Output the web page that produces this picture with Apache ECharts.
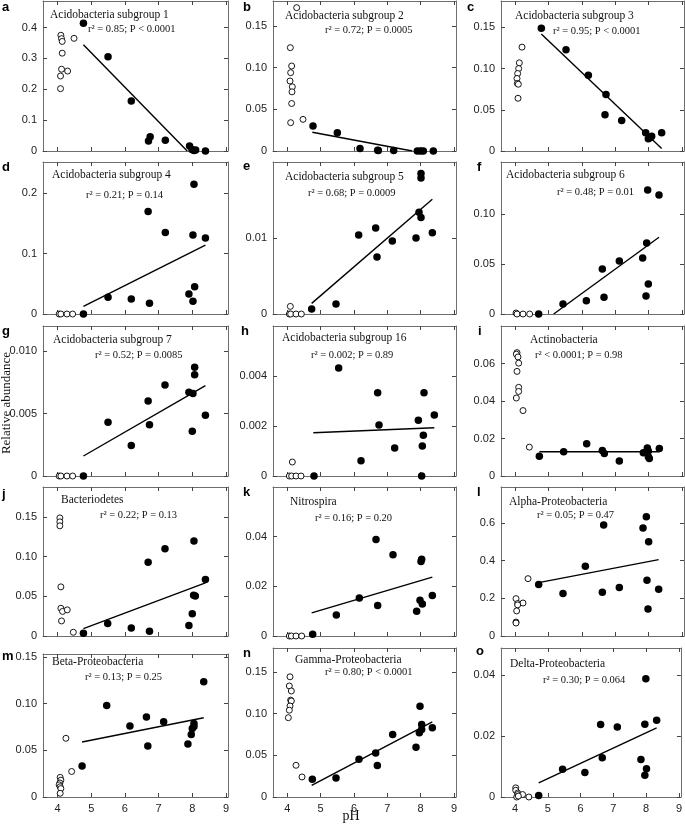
<!DOCTYPE html>
<html><head><meta charset="utf-8">
<script src="https://cdn.jsdelivr.net/npm/echarts@6/dist/echarts.min.js"></script>
<style>html,body{margin:0;padding:0;background:#fff}#c{width:685px;height:827px}</style>
</head><body><div id="c"></div><script>
const panelIds = ['a','b','c','d','e','f','g','h','i','j','k','l','m','n','o'];
const titles = ['Acidobacteria subgroup 1','Acidobacteria subgroup 2','Acidobacteria subgroup 3','Acidobacteria subgroup 4','Acidobacteria subgroup 5','Acidobacteria subgroup 6','Acidobacteria subgroup 7','Acidobacteria subgroup 16','Actinobacteria','Bacteriodetes','Nitrospira','Alpha-Proteobacteria','Beta-Proteobacteria','Gamma-Proteobacteria','Delta-Proteobacteria'];
const stats = ['r² = 0.85; P < 0.0001','r² = 0.72; P = 0.0005','r² = 0.95; P < 0.0001','r² = 0.21; P = 0.14','r² = 0.68; P = 0.0009','r² = 0.48; P = 0.01','r² = 0.52; P = 0.0085','r² = 0.002; P = 0.89','r² < 0.0001; P = 0.98','r² = 0.22; P = 0.13','r² = 0.16; P = 0.20','r² = 0.05; P = 0.47','r² = 0.13; P = 0.25','r² = 0.80; P < 0.0001','r² = 0.30; P = 0.064'];
const xTickLabels = ['4','5','6','7','8','9'];
const yTickLabels = [
  ['0','0.1','0.2','0.3','0.4'], ['0','0.05','0.10','0.15'], ['0','0.05','0.10','0.15'],
  ['0','0.1','0.2'], ['0','0.01'], ['0','0.05','0.10'],
  ['0','0.005','0.010'], ['0','0.002','0.004'], ['0','0.02','0.04','0.06'],
  ['0','0.05','0.10','0.15'], ['0','0.02','0.04'], ['0','0.2','0.4','0.6'],
  ['0','0.05','0.10','0.15'], ['0','0.05','0.10','0.15'], ['0','0.02','0.04']
];
const yMaxes = [0.486,0.180,0.182,0.252,0.020,0.152,0.012,0.006,0.080,0.188,0.060,0.79,0.153,0.1785,0.0489];

const aOpen = [[4.10,0.375],[4.12,0.364],[4.14,0.355],[4.14,0.317],[4.49,0.365],[4.12,0.265],[4.30,0.259],[4.09,0.243],[4.09,0.202]];
const aFilled = [[4.77,0.414],[5.50,0.305],[6.19,0.162],[6.75,0.046],[6.70,0.032],[7.20,0.035],[7.92,0.016],[7.99,0.005],[8.05,0.002],[8.10,0.003],[8.39,0.0]];
const aLine = [[4.77,0.344],[7.85,0]];
const bOpen = [[4.28,0.172],[4.09,0.124],[4.13,0.102],[4.10,0.094],[4.08,0.084],[4.15,0.077],[4.14,0.071],[4.13,0.057],[4.10,0.034],[4.47,0.038]];
const bFilled = [[4.77,0.030],[5.50,0.022],[6.18,0.003],[6.71,0.001],[6.73,0.0005],[7.19,0.0005],[7.90,0],[8.00,0],[8.08,0],[8.38,0]];
const bLine = [[4.75,0.0225],[7.75,0]];
const cOpen = [[4.20,0.126],[4.12,0.107],[4.10,0.100],[4.07,0.094],[4.05,0.088],[4.06,0.082],[4.09,0.081],[4.08,0.064]];
const cFilled = [[4.78,0.149],[5.52,0.123],[6.19,0.092],[6.72,0.0685],[6.69,0.044],[7.19,0.037],[7.91,0.022],[7.99,0.015],[8.04,0.016],[8.09,0.018],[8.39,0.022]];
const cLine = [[4.78,0.142],[8.39,0.003]];
const dOpen = [[4.05,0],[4.10,0],[4.28,0],[4.45,0]];
const dFilled = [[4.77,0],[5.50,0.0276],[6.19,0.025],[6.73,0.018],[6.69,0.170],[7.20,0.135],[7.90,0.033],[8.02,0.021],[8.07,0.045],[8.02,0.131],[8.05,0.215],[8.39,0.126]];
const dLine = [[4.77,0.0127],[8.39,0.114]];
const eOpen = [[4.09,0.001],[4.06,0],[4.10,0],[4.26,0],[4.42,0]];
const eFilled = [[4.73,0.00066],[5.46,0.0013],[6.14,0.0104],[6.65,0.0113],[6.69,0.0075],[7.15,0.0096],[7.86,0.0100],[7.95,0.0134],[8.01,0.0127],[8.01,0.0185],[8.01,0.0179],[8.35,0.0107]];
const eLine = [[4.73,0.0014],[8.35,0.0151]];
const fOpen = [[4.02,0.001],[4.05,0],[4.23,0],[4.43,0]];
const fFilled = [[4.70,0],[5.43,0.010],[6.13,0.0133],[6.61,0.045],[6.66,0.0167],[7.12,0.053],[7.82,0.056],[7.94,0.071],[7.92,0.018],[7.99,0.030],[7.97,0.124],[8.31,0.119]];
const fLine = [[5.15,0],[8.31,0.0767]];
const gOpen = [[4.05,0],[4.10,0],[4.28,0],[4.45,0]];
const gFilled = [[4.77,0],[5.50,0.00431],[6.19,0.00245],[6.69,0.0060],[6.73,0.0041],[7.19,0.00729],[7.90,0.0067],[8.02,0.0066],[8.00,0.00359],[8.07,0.0081],[8.07,0.0087],[8.39,0.00487]];
const gLine = [[4.77,0.0016],[8.39,0.00723]];
const hOpen = [[4.15,0.00056],[4.06,0],[4.13,0],[4.26,0],[4.41,0]];
const hFilled = [[4.80,0],[5.54,0.00432],[6.21,0.00061],[6.71,0.00333],[6.75,0.00204],[7.22,0.00112],[7.93,0.00223],[8.05,0.0012],[8.08,0.00163],[8.10,0.00333],[8.03,0],[8.41,0.00244]];
const hLine = [[4.78,0.00173],[8.41,0.00193]];
const iOpen = [[4.05,0.0658],[4.03,0.0650],[4.08,0.0635],[4.10,0.0602],[4.05,0.0558],[4.10,0.0473],[4.10,0.0451],[4.03,0.0416],[4.23,0.0349],[4.42,0.0154]];
const iFilled = [[4.72,0.0106],[5.45,0.0129],[6.14,0.0172],[6.61,0.0136],[6.67,0.0120],[7.12,0.0080],[7.84,0.0124],[7.96,0.0150],[7.99,0.0133],[7.99,0.0103],[8.02,0.0094],[8.32,0.0147]];
const iLine = [[4.72,0.0129],[8.32,0.0129]];
const jOpen = [[4.07,0.149],[4.07,0.144],[4.07,0.139],[4.10,0.062],[4.10,0.035],[4.15,0.031],[4.29,0.033],[4.12,0.019],[4.47,0.0047]];
const jFilled = [[4.77,0.0034],[5.49,0.0157],[6.19,0.0102],[6.69,0.093],[6.73,0.0059],[7.19,0.110],[7.90,0.0131],[8.00,0.0280],[8.05,0.120],[8.04,0.0513],[8.09,0.0504],[8.39,0.0712]];
const jLine = [[4.77,0.0093],[8.39,0.067]];
const kOpen = [[4.06,0],[4.12,0],[4.26,0],[4.43,0]];
const kFilled = [[4.76,0.0007],[5.47,0.0085],[6.16,0.0153],[6.66,0.0389],[6.71,0.0123],[7.17,0.0327],[7.88,0.010],[7.98,0.0144],[8.05,0.0129],[8.01,0.030],[8.03,0.0309],[8.35,0.0163]];
const kLine = [[4.73,0.0093],[8.35,0.0237]];
const lOpen = [[4.38,0.304],[4.02,0.198],[4.07,0.172],[4.23,0.175],[4.07,0.165],[4.04,0.133],[4.02,0.074],[4.02,0.069]];
const lFilled = [[4.70,0.273],[5.43,0.225],[6.10,0.370],[6.65,0.589],[6.61,0.232],[7.12,0.257],[7.83,0.573],[7.93,0.632],[8.00,0.50],[7.95,0.296],[7.98,0.143],[8.30,0.248]];
const lLine = [[4.70,0.283],[8.30,0.405]];
const mOpen = [[4.25,0.0628],[4.42,0.0273],[4.08,0.021],[4.10,0.018],[4.07,0.015],[4.05,0.013],[4.08,0.011],[4.10,0.009],[4.08,0.004]];
const mFilled = [[4.73,0.0333],[5.46,0.098],[6.15,0.0759],[6.64,0.0855],[6.68,0.0546],[7.15,0.0805],[7.87,0.0567],[7.97,0.067],[8.00,0.0734],[8.05,0.0755],[8.05,0.0787],[8.34,0.1234]];
const mLine = [[4.73,0.0589],[8.34,0.0848]];
const nOpen = [[4.08,0.144],[4.06,0.133],[4.12,0.127],[4.10,0.116],[4.12,0.115],[4.08,0.109],[4.06,0.104],[4.03,0.095],[4.26,0.038],[4.44,0.024]];
const nFilled = [[4.75,0.0212],[5.46,0.0228],[6.15,0.0452],[6.65,0.0528],[6.70,0.0376],[7.16,0.0748],[7.86,0.0596],[7.98,0.1088],[7.96,0.077],[8.03,0.081],[8.03,0.087],[8.35,0.083]];
const nLine = [[4.73,0.014],[8.35,0.09]];
const oOpen = [[4.02,0.0030],[4.02,0.0022],[4.08,0.0013],[4.08,0.0008],[4.23,0.0008],[4.42,0.0],[4.05,0],[4.10,0.0003]];
const oFilled = [[4.72,0.0005],[5.45,0.0091],[6.13,0.0080],[6.61,0.0238],[6.66,0.0129],[7.12,0.0230],[7.84,0.0123],[7.96,0.0239],[7.96,0.0071],[8.01,0.0093],[7.99,0.0388],[8.32,0.0252]];
const oLine = [[4.72,0.0046],[8.32,0.0227]];

const openSets = [aOpen,bOpen,cOpen,dOpen,eOpen,fOpen,gOpen,hOpen,iOpen,jOpen,kOpen,lOpen,mOpen,nOpen,oOpen];
const filledSets = [aFilled,bFilled,cFilled,dFilled,eFilled,fFilled,gFilled,hFilled,iFilled,jFilled,kFilled,lFilled,mFilled,nFilled,oFilled];
const lineSets = [aLine,bLine,cLine,dLine,eLine,fLine,gLine,hLine,iLine,jLine,kLine,lLine,mLine,nLine,oLine];

// layout
const colLeft = [43, 273, 501], colW = [185, 183, 183];
const rowTop = [1, 162, 326, 487, 648], rowBot = [151, 314, 476, 636, 797];
const topOverride = {12: 654};
const titleOff = [[7,14],[12,15],[14,15],[9,13],[12,15],[5,13],[10,14],[9,12],[29,14],[18,13],[17,15],[8,15],[9,8],[22,12],[9,16]];
const statOff = [[45,28],[52,29],[52,30],[43,33],[35,31],[56,30],[52,29],[38,29],[34,29],[57,28],[42,31],[36,28],[42,23],[52,24],[42,32]];
const letterPos = [[2,7],[243,7],[467,7],[2,167],[243,166],[477,167],[2,331],[241,331],[478,331],[2,494],[243,492],[477,492],[2,656],[243,653],[476,651]];

const FRAME = '#6e6e6e';
const grids = [], xAxes = [], yAxes = [], series = [], graphics = [];
const xTickVals = xTickLabels.map(Number);

for (let i = 0; i < 15; i++) {
  const r = Math.floor(i / 3), c = i % 3;
  const top = topOverride[i] !== undefined ? topOverride[i] : rowTop[r];
  const left = colLeft[c], w = colW[c], h = rowBot[r] - top;
  grids.push({left: left, top: top, width: w, height: h});
  const yl = yTickLabels[i], yv = yl.map(Number);
  const fmt = v => { const k = yv.findIndex(x => Math.abs(x - v) < 1e-12); return k >= 0 ? yl[k] : ''; };
  const axLine = {show: true, onZero: false, lineStyle: {color: FRAME, width: 1}};
  const tick = vals => ({show: true, inside: true, length: 4, customValues: vals, lineStyle: {color: '#444', width: 1}});
  xAxes.push({type: 'value', gridIndex: i, min: 3.57, max: 9.06, position: 'bottom',
    axisLine: axLine, axisTick: tick(xTickVals), splitLine: {show: false},
    axisLabel: {show: r === 4, customValues: xTickVals, fontFamily: 'Liberation Sans', fontSize: 11, color: '#222', margin: 6}});
  xAxes.push({type: 'value', gridIndex: i, min: 3.57, max: 9.06, position: 'top',
    axisLine: axLine, axisTick: tick(xTickVals), splitLine: {show: false}, axisLabel: {show: false}});
  yAxes.push({type: 'value', gridIndex: i, min: 0, max: yMaxes[i], position: 'left',
    axisLine: axLine, axisTick: tick(yv), splitLine: {show: false},
    axisLabel: {show: true, customValues: yv, formatter: fmt, fontFamily: 'Liberation Sans', fontSize: 11, color: '#222', margin: 6}});
  yAxes.push({type: 'value', gridIndex: i, min: 0, max: yMaxes[i], position: 'right',
    axisLine: axLine, axisTick: tick(yv), splitLine: {show: false}, axisLabel: {show: false}});
  const xi = 2 * i, yi = 2 * i;
  series.push({type: 'line', xAxisIndex: xi, yAxisIndex: yi, data: lineSets[i], symbol: 'none',
    lineStyle: {color: '#000', width: 1.4}, z: 2, animation: false, silent: true});
  series.push({type: 'scatter', xAxisIndex: xi, yAxisIndex: yi, data: openSets[i], symbolSize: 6,
    itemStyle: {color: '#fff', borderColor: '#000', borderWidth: 0.9, opacity: 1}, z: 3, animation: false, silent: true});
  series.push({type: 'scatter', xAxisIndex: xi, yAxisIndex: yi, data: filledSets[i], symbolSize: 7.5,
    itemStyle: {color: '#000', opacity: 1}, z: 4, animation: false, silent: true});
  graphics.push({type: 'text', z: 10, style: {x: left + titleOff[i][0], y: top + titleOff[i][1], text: titles[i],
    fontFamily: 'Liberation Serif', fontSize: 11.5, fill: '#111', verticalAlign: 'middle'}});
  graphics.push({type: 'text', z: 10, style: {x: left + statOff[i][0], y: top + statOff[i][1], text: stats[i],
    fontFamily: 'Liberation Serif', fontSize: 10.5, fill: '#111', verticalAlign: 'middle'}});
  graphics.push({type: 'text', z: 10, style: {x: letterPos[i][0], y: letterPos[i][1], text: panelIds[i],
    fontFamily: 'Liberation Sans', fontWeight: 'bold', fontSize: 13, fill: '#000', verticalAlign: 'middle'}});
}
graphics.push({type: 'text', z: 10, x: 7, y: 403, rotation: Math.PI / 2,
  style: {x: 0, y: 0, text: 'Relative abundance', fontFamily: 'Liberation Serif', fontSize: 13, fill: '#111', align: 'center', verticalAlign: 'middle'}});
graphics.push({type: 'text', z: 10, style: {x: 351, y: 816, text: 'pH', fontFamily: 'Liberation Serif', fontSize: 14, fill: '#111', align: 'center', verticalAlign: 'middle'}});

const chart = echarts.init(document.getElementById('c'), null, {renderer: 'canvas'});
chart.setOption({animation: false, backgroundColor: '#fff', grid: grids, xAxis: xAxes, yAxis: yAxes, series: series, graphic: graphics});
</script></body></html>
